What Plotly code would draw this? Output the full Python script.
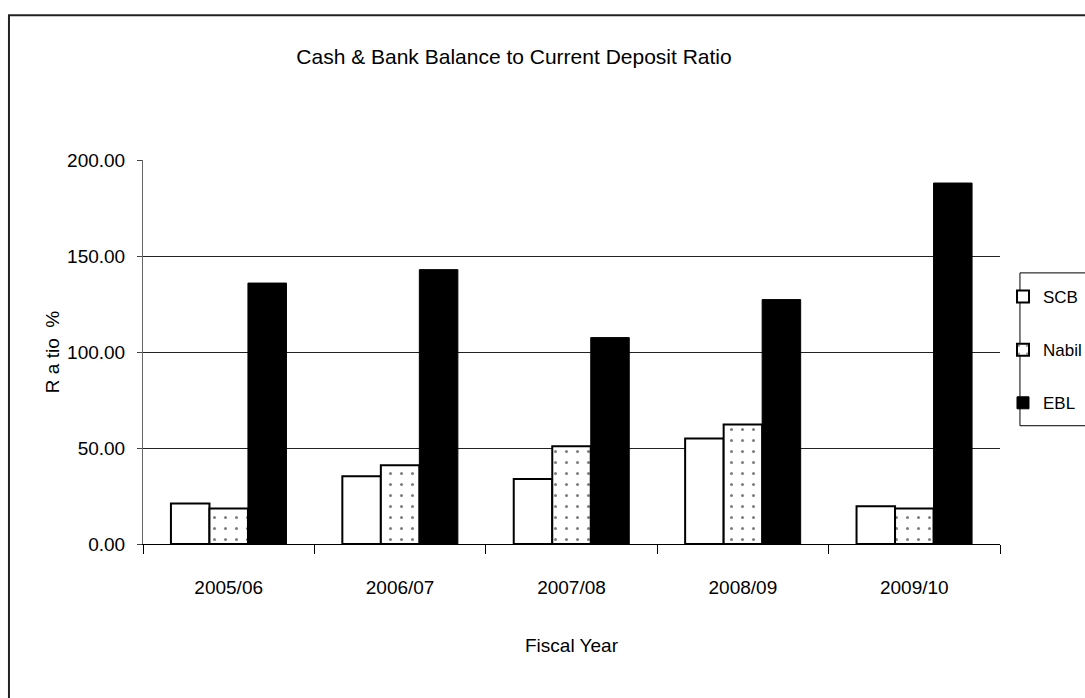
import plotly.graph_objects as go

# Fiscal years and ratio (%) per bank
years = ["2005/06", "2006/07", "2007/08", "2008/09", "2009/10"]
scb = [21.1, 35.3, 33.9, 54.9, 19.7]
nabil = [18.5, 41.0, 50.9, 62.3, 18.5]
ebl = [135.9, 142.9, 107.5, 127.3, 188.0]
y_ticks = [0, 50, 100, 150, 200]
y_tick_text = ["0.00", "50.00", "100.00", "150.00", "200.00"]

FONT = "Liberation Sans, Arial, sans-serif"

fig = go.Figure()
fig.add_trace(go.Bar(
    name="SCB", x=years, y=scb, legendgroup="a",
    marker=dict(color="white", line=dict(color="black", width=2)),
))
fig.add_trace(go.Bar(
    name="Nabil", x=years, y=nabil, legendgroup="b",
    marker=dict(color="white", line=dict(color="black", width=2),
                pattern=dict(shape=".", size=11, solidity=0.06,
                             fgcolor="black", bgcolor="white", fillmode="overlay")),
))
fig.add_trace(go.Bar(
    name="EBL", x=years, y=ebl, legendgroup="c",
    marker=dict(color="black", line=dict(color="black", width=1)),
))

# outer chart frame and legend box
fig.add_shape(type="rect", xref="paper", yref="paper",
              x0=-0.1564, x1=1.3, y0=-0.5, y1=1.377,
              line=dict(color="#222", width=2), fillcolor="rgba(0,0,0,0)", layer="below")
fig.add_shape(type="rect", xref="paper", yref="paper",
              x0=1.0233, x1=1.2, y0=0.308, y1=0.706,
              line=dict(color="black", width=1), fillcolor="rgba(0,0,0,0)")

fig.update_layout(
    width=1085, height=698,
    margin=dict(l=143, r=85, t=160, b=154, autoexpand=False),
    paper_bgcolor="white", plot_bgcolor="white",
    font=dict(family=FONT, color="black", size=19),
    title=dict(text="Cash & Bank Balance to Current Deposit Ratio",
               x=514 / 1085, xanchor="center", xref="container",
               y=1 - 57 / 698, yanchor="middle", yref="container",
               font=dict(size=21, family=FONT, color="black")),
    barmode="group", bargap=0.326, bargroupgap=0,
    showlegend=True,
    legend=dict(x=1.0035, xanchor="left", y=0.69, yanchor="top",
                bgcolor="rgba(0,0,0,0)", borderwidth=0,
                font=dict(size=17, family=FONT), tracegroupgap=28,
                traceorder="grouped"),
    xaxis=dict(
        type="category", tickson="boundaries", ticks="outside", ticklen=9,
        tickcolor="black", showline=True, linecolor="black", linewidth=1,
        showgrid=False, ticklabelstandoff=26,
        title=dict(text="Fiscal Year", standoff=41, font=dict(size=19, family=FONT)),
    ),
    yaxis=dict(
        range=[0, 200], tickvals=y_ticks, ticktext=y_tick_text,
        ticks="outside", ticklen=5, tickcolor="#444",
        showline=True, linecolor="#666", linewidth=1,
        showgrid=True, gridcolor="#222", gridwidth=1, zeroline=False,
        ticklabelstandoff=8,
        title=dict(text="R a tio  %", standoff=2, font=dict(size=19, family=FONT)),
    ),
)

fig.write_html("out.html")
